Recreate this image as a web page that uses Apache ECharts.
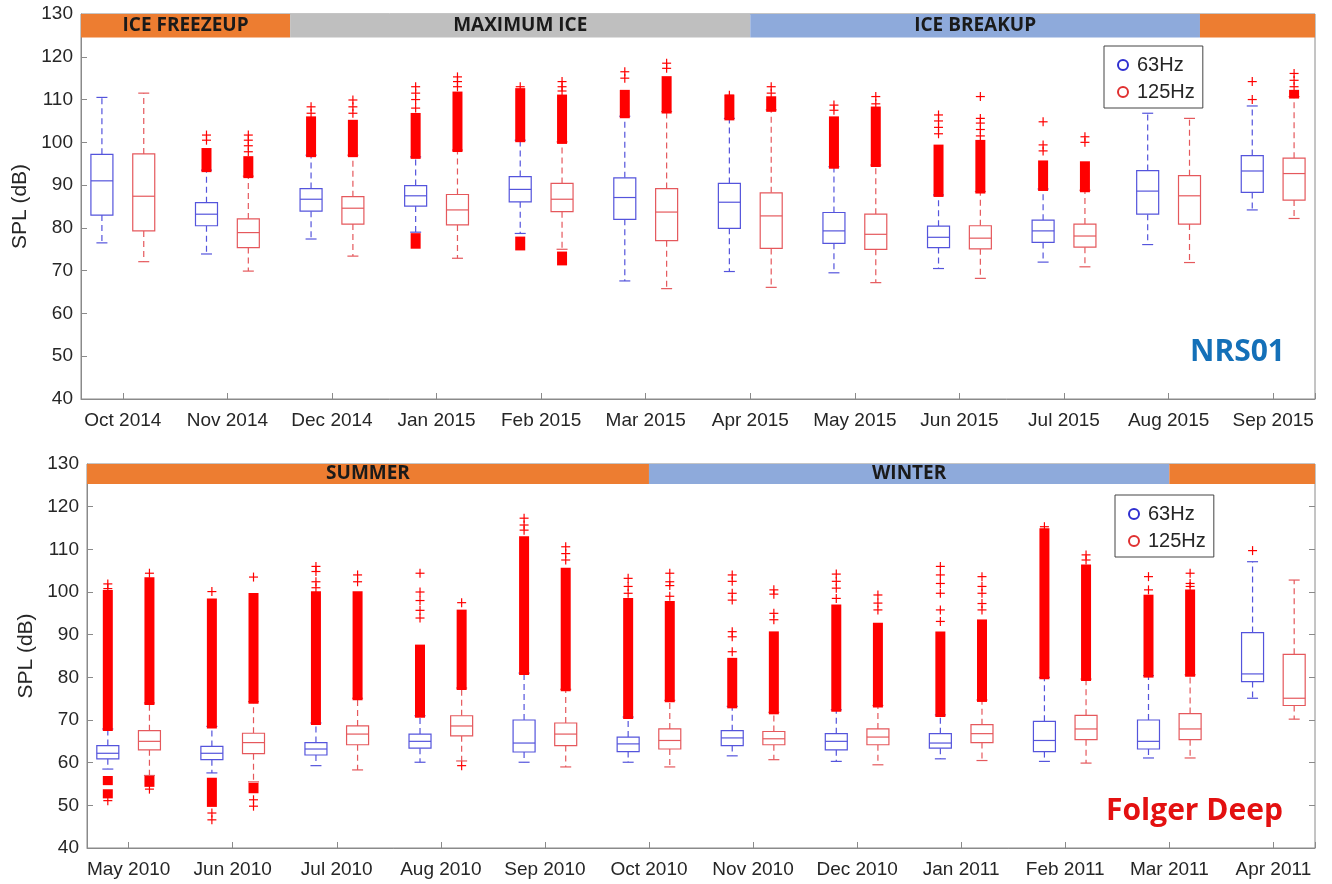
<!DOCTYPE html>
<html>
<head>
<meta charset="utf-8">
<title>Monthly SPL boxplots</title>
<script src="https://cdn.jsdelivr.net/npm/echarts@6/dist/echarts.min.js"></script>
<style>
  html, body { margin: 0; padding: 0; background: #fff; }
  #chart { width: 1332px; height: 884px; }
</style>
</head>
<body>
<div id="chart"></div>
<script>
// ---- data ----
var monthsNrs = ['Oct 2014', 'Nov 2014', 'Dec 2014', 'Jan 2015', 'Feb 2015', 'Mar 2015',
  'Apr 2015', 'May 2015', 'Jun 2015', 'Jul 2015', 'Aug 2015', 'Sep 2015'];
var monthsFolger = ['May 2010', 'Jun 2010', 'Jul 2010', 'Aug 2010', 'Sep 2010', 'Oct 2010',
  'Nov 2010', 'Dec 2010', 'Jan 2011', 'Feb 2011', 'Mar 2011', 'Apr 2011'];

// [lower whisker, Q1, median, Q3, upper whisker]
var nrs63 = [
  [76.5, 83.0, 91.0, 97.2, 110.5], [73.9, 80.5, 83.2, 85.9, 93.5], [77.4, 83.9, 86.7, 89.2, 97.0],
  [79.0, 85.1, 87.5, 89.9, 96.6], [78.7, 86.1, 89.0, 92.0, 100.5], [67.6, 82.0, 87.1, 91.7, 106.1],
  [69.8, 79.9, 86.0, 90.4, 105.6], [69.5, 76.4, 79.3, 83.6, 94.3], [70.5, 75.4, 77.8, 80.4, 87.7],
  [72.0, 76.6, 79.3, 81.8, 89.1], [76.1, 83.2, 88.6, 93.4, 106.8], [84.2, 88.3, 93.3, 96.9, 108.5]
];
var nrs125 = [
  [72.1, 79.3, 87.4, 97.3, 111.5], [69.9, 75.4, 78.9, 82.1, 92.1], [73.4, 80.9, 84.6, 87.3, 97.0],
  [72.9, 80.7, 84.2, 87.8, 98.2], [75.0, 83.8, 86.7, 90.4, 100.1], [65.8, 77.0, 83.7, 89.2, 107.2],
  [66.1, 75.2, 82.8, 88.2, 107.6], [67.2, 75.0, 78.5, 83.2, 94.7], [68.2, 75.1, 77.6, 80.5, 88.5],
  [70.9, 75.5, 78.1, 80.9, 88.8], [71.9, 80.9, 87.5, 92.2, 105.6], [82.2, 86.5, 92.7, 96.3, 110.7]
];
// dense outlier runs: [month index, from, to]
var nrs63Dense = [[1, 93.5, 98.2], [2, 97.0, 105.6], [3, 96.6, 106.4], [3, 75.6, 78.3], [4, 100.5, 112.2],
  [4, 75.2, 77.5], [5, 106.1, 111.8], [6, 105.6, 110.7], [7, 94.3, 105.6], [8, 87.7, 99.0], [9, 89.1, 95.3]];
var nrs125Dense = [[1, 92.1, 96.3], [2, 97.0, 104.8], [3, 98.2, 111.4], [4, 100.1, 110.7], [4, 71.7, 74.0],
  [5, 107.2, 115.0], [6, 107.6, 110.3], [7, 94.7, 107.9], [8, 88.5, 100.1], [9, 88.8, 95.1], [11, 110.7, 111.8]];
// single outliers: [month index, value]
var nrs63Plus = [[1, 100.5], [1, 101.7], [2, 106.8], [2, 108.3], [3, 108.0], [3, 110.0], [3, 111.5], [3, 113.0],
  [4, 113.0], [5, 115.0], [5, 116.5], [6, 111.0], [7, 107.5], [7, 108.7], [8, 102.0], [8, 103.5], [8, 105.0],
  [8, 106.4], [9, 98.0], [9, 99.4], [9, 104.8], [11, 110.0], [11, 114.2]];
var nrs125Plus = [[1, 97.8], [1, 99.2], [1, 100.5], [1, 101.7], [2, 106.8], [2, 108.3], [2, 109.9], [3, 113.0],
  [3, 114.2], [3, 115.3], [4, 112.0], [4, 113.0], [4, 114.2], [5, 117.3], [5, 118.5], [6, 111.5], [6, 113.0],
  [7, 109.0], [7, 110.7], [8, 101.5], [8, 103.0], [8, 104.5], [8, 105.6], [8, 110.7], [9, 100.0], [9, 101.3],
  [11, 113.0], [11, 114.5], [11, 116.1]];

var folger63 = [
  [58.5, 60.9, 62.2, 64.0, 67.9], [57.6, 60.7, 62.2, 63.8, 68.5], [59.3, 61.8, 63.2, 64.7, 69.3],
  [60.1, 63.4, 65.0, 66.7, 71.0], [60.1, 62.5, 64.6, 70.0, 81.0], [60.1, 62.6, 64.4, 66.0, 70.7],
  [61.6, 64.0, 65.8, 67.5, 73.2], [60.3, 63.0, 65.0, 66.8, 72.4], [60.9, 63.4, 64.6, 66.8, 71.2],
  [60.3, 62.6, 65.2, 69.7, 80.0], [61.1, 63.2, 65.0, 70.0, 80.4], [75.1, 79.0, 80.8, 90.5, 107.1]
];
var folger125 = [
  [57.0, 63.0, 65.0, 67.5, 74.0], [55.5, 62.1, 64.7, 66.9, 74.3], [58.3, 64.2, 66.7, 68.6, 75.1],
  [60.4, 66.3, 68.6, 71.0, 77.5], [59.0, 64.0, 66.7, 69.3, 77.2], [59.0, 63.2, 65.2, 67.9, 74.6],
  [60.7, 64.2, 65.6, 67.3, 71.8], [59.5, 64.2, 66.0, 67.9, 73.4], [60.5, 64.7, 66.8, 68.9, 74.7],
  [59.9, 65.4, 67.9, 71.1, 79.6], [61.1, 65.4, 67.9, 71.5, 80.6], [70.2, 73.4, 75.1, 85.4, 102.8]
];
var folger63Dense = [[0, 67.9, 100.0], [0, 55.2, 56.4], [0, 52.1, 53.3], [1, 68.5, 98.0], [1, 50.1, 56.0],
  [2, 69.3, 99.7], [3, 71.0, 87.2], [4, 81.0, 112.6], [5, 70.7, 98.1], [6, 73.2, 84.1], [7, 72.4, 96.6],
  [8, 71.2, 90.3], [9, 80.0, 114.5], [10, 80.4, 98.9]];
var folger125Dense = [[0, 74.0, 103.0], [0, 54.8, 56.4], [1, 74.3, 99.3], [1, 53.3, 54.8], [2, 75.1, 99.7],
  [3, 77.5, 95.4], [4, 77.2, 105.2], [5, 74.6, 97.4], [6, 71.8, 90.3], [7, 73.4, 92.3], [8, 74.7, 93.1],
  [9, 79.6, 106.0], [10, 80.6, 100.1]];
var folger63Plus = [[0, 101.9], [0, 100.8], [0, 51.1], [1, 100.1], [1, 48.2], [1, 46.6], [2, 106.0], [2, 104.8],
  [2, 102.4], [2, 101.0], [3, 104.4], [3, 100.0], [3, 98.0], [3, 95.7], [3, 93.9], [4, 117.3], [4, 115.7],
  [4, 114.5], [5, 103.2], [5, 101.3], [5, 99.7], [6, 104.0], [6, 102.5], [6, 99.7], [6, 98.1], [6, 90.7],
  [6, 89.5], [6, 86.0], [7, 104.2], [7, 102.5], [7, 100.9], [7, 98.5], [8, 106.0], [8, 104.0], [8, 102.0],
  [8, 99.7], [8, 95.8], [8, 93.1], [9, 115.3], [10, 103.6], [10, 100.5], [11, 109.7]];
var folger125Plus = [[0, 104.4], [0, 53.8], [1, 103.5], [1, 51.3], [1, 49.8], [2, 104.0], [2, 102.4], [3, 97.5],
  [3, 59.3], [4, 110.6], [4, 109.0], [4, 107.5], [5, 104.4], [5, 102.4], [5, 101.5], [5, 99.0], [6, 100.5],
  [6, 99.5], [6, 95.0], [6, 93.5], [7, 99.3], [7, 97.4], [7, 95.8], [8, 103.6], [8, 101.3], [8, 99.7],
  [8, 97.3], [8, 95.8], [9, 108.7], [9, 107.5], [10, 104.4], [10, 101.3], [10, 102.0]];

// season bars along the top (edges in axis units)
var seasonNrsNames = ['ICE FREEZEUP', 'MAXIMUM ICE', 'ICE BREAKUP', ''];
var seasonNrsEdges = [0.6, 2.6, 7.0, 11.3, 12.4];
var seasonFolgerNames = ['SUMMER', 'WINTER', ''];
var seasonFolgerEdges = [0.6, 6.0, 11.0, 12.4];

// ---- styles ----
var BLUE = '#5454dc', RED = '#e5585c', OUT = '#ff0000';
var ORANGE = '#ed7d31', GREY = '#bfbfbf', LBLUE = '#8eaadb';
var seasonNrsColors = [ORANGE, GREY, LBLUE, ORANGE];
var seasonFolgerColors = [ORANGE, LBLUE, ORANGE];
var AXIS = '#8a8a8a', TXT = '#262626';

function boxData(stats) {
  return stats.map(function (s, i) { return [i + 1].concat(s); });
}

function renderBox(shift, color) {
  return function (params, api) {
    var x = api.value(0);
    var unit = api.size([1, 0])[0];
    var cx = api.coord([x, 0])[0] + shift * unit;
    var py = function (d) { return api.coord([x, api.value(d)])[1]; };
    var lo = py(1), q1 = py(2), md = py(3), q3 = py(4), hi = py(5);
    var hw = 11, cw = 5.5;
    var dash = { stroke: color, lineWidth: 1.2, lineDash: [6, 4] };
    var solid = { stroke: color, lineWidth: 1.2 };
    return {
      type: 'group',
      children: [
        { type: 'line', shape: { x1: cx, y1: q3, x2: cx, y2: hi }, style: dash },
        { type: 'line', shape: { x1: cx, y1: q1, x2: cx, y2: lo }, style: dash },
        { type: 'line', shape: { x1: cx - cw, y1: hi, x2: cx + cw, y2: hi }, style: solid },
        { type: 'line', shape: { x1: cx - cw, y1: lo, x2: cx + cw, y2: lo }, style: solid },
        { type: 'rect', shape: { x: cx - hw, y: q3, width: 2 * hw, height: q1 - q3 },
          style: { fill: '#fff', stroke: color, lineWidth: 1.2 } },
        { type: 'line', shape: { x1: cx - hw, y1: md, x2: cx + hw, y2: md }, style: solid }
      ]
    };
  };
}

function renderDense(shift) {
  return function (params, api) {
    var x = api.value(0) + 1;
    var unit = api.size([1, 0])[0];
    var cx = api.coord([x, 0])[0] + shift * unit;
    var top = api.coord([x, api.value(2)])[1];
    var bot = api.coord([x, api.value(1)])[1];
    return { type: 'rect', shape: { x: cx - 5, y: top - 2, width: 10, height: bot - top + 4 },
      style: { fill: OUT } };
  };
}

function renderPlus(shift) {
  return function (params, api) {
    var x = api.value(0) + 1;
    var unit = api.size([1, 0])[0];
    var cx = api.coord([x, 0])[0] + shift * unit;
    var cy = api.coord([x, api.value(1)])[1];
    var st = { stroke: OUT, lineWidth: 1.2 };
    return {
      type: 'group',
      children: [
        { type: 'line', shape: { x1: cx - 4.5, y1: cy, x2: cx + 4.5, y2: cy }, style: st },
        { type: 'line', shape: { x1: cx, y1: cy - 4.5, x2: cx, y2: cy + 4.5 }, style: st }
      ]
    };
  };
}

function renderSeason(names, colors, bandLo) {
  return function (params, api) {
    var i = params.dataIndex;
    var a = api.coord([api.value(0), 130]);
    var b = api.coord([api.value(1), bandLo]);
    return {
      type: 'group',
      children: [
        { type: 'rect', shape: { x: a[0], y: a[1], width: b[0] - a[0], height: b[1] - a[1] },
          style: { fill: colors[i] } },
        { type: 'text', style: { text: names[i], x: (a[0] + b[0]) / 2, y: (a[1] + b[1]) / 2,
          align: 'center', verticalAlign: 'middle', textAlign: 'center', textVerticalAlign: 'middle',
          font: 'bold 19px "Open Sans"', fill: '#1a1a1a' } }
      ]
    };
  };
}

function seasonData(edges) {
  var out = [];
  for (var i = 0; i < edges.length - 1; i++) out.push([edges[i], edges[i + 1]]);
  return out;
}

function xAxisFor(grid, labels) {
  return {
    type: 'value', gridIndex: grid, min: 0.6, max: 12.4, splitNumber: 12, minInterval: 1, maxInterval: 1,
    splitLine: { show: false },
    axisLine: { lineStyle: { color: AXIS } },
    axisTick: { inside: true, length: 6, lineStyle: { color: AXIS } },
    axisLabel: {
      color: TXT, fontSize: 19, fontFamily: 'Liberation Sans', margin: 12,
      formatter: function (v) {
        var r = Math.round(v);
        return Math.abs(v - r) < 1e-6 && r >= 1 && r <= labels.length ? labels[r - 1] : '';
      }
    }
  };
}

function yAxisFor(grid) {
  return {
    type: 'value', gridIndex: grid, min: 40, max: 130, interval: 10,
    name: 'SPL (dB)', nameLocation: 'middle', nameGap: 47,
    nameTextStyle: { color: TXT, fontSize: 21, fontFamily: 'Liberation Sans' },
    splitLine: { show: false },
    axisLine: { lineStyle: { color: AXIS } },
    axisTick: { inside: true, length: 6, lineStyle: { color: AXIS } },
    axisLabel: { color: TXT, fontSize: 19, fontFamily: 'Liberation Sans', margin: 8 }
  };
}

function legendAt(left, top) {
  return {
    left: left, top: top, orient: 'vertical', selectedMode: false,
    backgroundColor: '#fff', borderColor: '#444', borderWidth: 1,
    padding: [9, 8, 6, 13], itemGap: 7, itemWidth: 10, itemHeight: 10,
    textStyle: { color: TXT, fontSize: 20, fontFamily: 'Liberation Sans', padding: [0, 0, 0, 4] },
    data: [
      { name: '63Hz', icon: 'emptyCircle', itemStyle: { color: '#2f2fd0', borderColor: '#2f2fd0', borderWidth: 1.8 } },
      { name: '125Hz', icon: 'emptyCircle', itemStyle: { color: '#e03030', borderColor: '#e03030', borderWidth: 1.8 } }
    ]
  };
}

function panelSeries(idx, s63, s125, d63, d125, p63, p125, sNames, sEdges, sColors, bandLo) {
  var base = { xAxisIndex: idx, yAxisIndex: idx, silent: true, animation: false };
  return [
    Object.assign({ type: 'custom', name: 'season' + idx, renderItem: renderSeason(sNames, sColors, bandLo),
      data: seasonData(sEdges), encode: { x: [0, 1] }, z: 1 }, base),
    Object.assign({ type: 'custom', name: '63Hz', itemStyle: { color: BLUE }, renderItem: renderBox(-0.2, BLUE),
      data: boxData(s63), encode: { x: 0, y: [1, 2, 3, 4, 5] }, z: 3 }, base),
    Object.assign({ type: 'custom', name: '125Hz', itemStyle: { color: RED }, renderItem: renderBox(0.2, RED),
      data: boxData(s125), encode: { x: 0, y: [1, 2, 3, 4, 5] }, z: 3 }, base),
    Object.assign({ type: 'custom', name: 'out63', renderItem: renderDense(-0.2), data: d63, z: 4 }, base),
    Object.assign({ type: 'custom', name: 'out125', renderItem: renderDense(0.2), data: d125, z: 4 }, base),
    Object.assign({ type: 'custom', name: 'plus63', renderItem: renderPlus(-0.2), data: p63, z: 4 }, base),
    Object.assign({ type: 'custom', name: 'plus125', renderItem: renderPlus(0.2), data: p125, z: 4 }, base)
  ];
}

var chart = echarts.init(document.getElementById('chart'), null, { renderer: 'canvas' });

var option = {
  backgroundColor: '#fff',
  animation: false,
  title: [
    { text: 'NRS01', left: 1190, top: 336, padding: 0,
      textStyle: { color: '#1470b8', fontSize: 30, fontWeight: 'bold', fontFamily: 'Open Sans', lineHeight: 32 } },
    { text: 'Folger Deep', left: 1106, top: 795, padding: 0,
      textStyle: { color: '#e31010', fontSize: 30, fontWeight: 'bold', fontFamily: 'Open Sans', lineHeight: 32 } }
  ],
  grid: [
    { left: 81, right: 17, top: 14, height: 385, show: true, borderColor: AXIS, borderWidth: 1 },
    { left: 87, right: 17, top: 464, height: 384, show: true, borderColor: AXIS, borderWidth: 1 }
  ],
  legend: [legendAt(1104, 46), legendAt(1115, 495)],
  xAxis: [xAxisFor(0, monthsNrs), xAxisFor(1, monthsFolger)],
  yAxis: [
    yAxisFor(0),
    yAxisFor(1),
    { type: 'value', gridIndex: 1, position: 'right', min: 40, max: 130, interval: 10,
      splitLine: { show: false }, axisLine: { show: false }, axisLabel: { show: false },
      axisTick: { inside: true, length: 6, lineStyle: { color: AXIS } } }
  ],
  series: panelSeries(0, nrs63, nrs125, nrs63Dense, nrs125Dense, nrs63Plus, nrs125Plus,
      seasonNrsNames, seasonNrsEdges, seasonNrsColors, 124.5)
    .concat(panelSeries(1, folger63, folger125, folger63Dense, folger125Dense, folger63Plus, folger125Plus,
      seasonFolgerNames, seasonFolgerEdges, seasonFolgerColors, 125.3))
};

chart.setOption(option);
</script>
</body>
</html>
